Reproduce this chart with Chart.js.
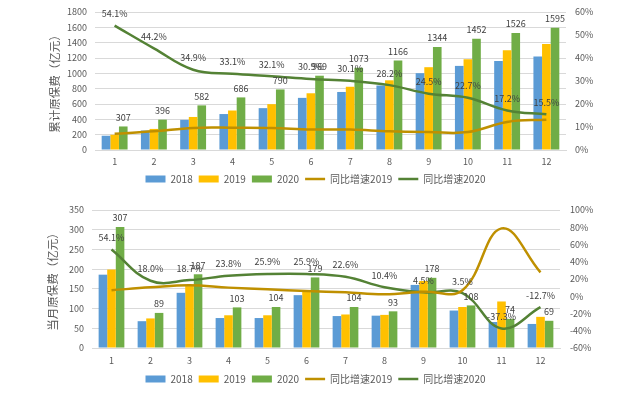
<!DOCTYPE html>
<html>
<head>
<meta charset="utf-8">
<script src="https://cdn.jsdelivr.net/npm/chart.js@4.4.0/dist/chart.umd.min.js"></script>
<style>
  body { margin: 0; background: #fff; }
  #wrap { position: relative; width: 640px; height: 398px; }
  #wrap canvas { position: absolute; left: 0; }
</style>
</head>
<body>
<div id="wrap">
  <canvas id="cumChart" width="640" height="195" style="top:0"></canvas>
  <canvas id="monChart" width="640" height="203" style="top:195px"></canvas>
</div>
<script>
  // months on the x axis
  const months = ['1', '2', '3', '4', '5', '6', '7', '8', '9', '10', '11', '12'];

  // cumulative premium (亿元)
  const cum2018 = [186, 254, 393, 469, 546, 680, 757, 841, 1002, 1097, 1160, 1220];
  const cum2019 = [199, 275, 431, 515, 598, 740, 825, 909, 1080, 1183, 1302, 1381];
  const cum2020 = [307, 396, 582, 686, 790, 969, 1073, 1166, 1344, 1452, 1526, 1595];
  const cumGrowth2019 = [7.1, 8.1, 9.6, 9.7, 9.6, 8.9, 8.9, 8.1, 7.8, 7.8, 12.2, 13.2];
  const cumGrowth2020 = [54.1, 44.2, 34.9, 33.1, 32.1, 30.9, 30.1, 28.2, 24.5, 22.7, 17.2, 15.5];

  // monthly premium (亿元)
  const mon2018 = [186, 68, 140, 76, 76, 134, 81, 82, 160, 95, 66, 61];
  const mon2019 = [199, 75, 157, 83, 83, 142, 85, 84, 170, 104, 118, 79];
  const mon2020 = [307, 89, 187, 103, 104, 179, 104, 93, 178, 108, 74, 69];
  const monGrowth2019 = [7.0, 10.3, 12.7, 10.0, 8.0, 6.1, 4.5, 2.2, 5.3, 7.0, 78.7, 27.7];
  const monGrowth2020 = [54.1, 18.0, 18.7, 23.8, 25.9, 25.9, 22.6, 10.4, 4.5, 3.5, -37.3, -12.7];

  const seriesNames = ['2018', '2019', '2020', '同比增速2019', '同比增速2020'];
  const colors = ['#5B9BD5', '#FFC000', '#70AD47', '#BF9000', '#548235'];

  const FONT = '"Noto Sans CJK SC", "Noto Sans", sans-serif';
  const TXT = '#595959';

  // draws the numbers above the 2020 bars and the 2020 growth line
  const valueLabels = {
    id: 'valueLabels',
    afterDatasetsDraw(chart, args, opts) {
      const ctx = chart.ctx;
      ctx.save();
      ctx.font = '9px ' + FONT;
      ctx.fillStyle = '#404040';
      ctx.textAlign = 'center';
      ctx.textBaseline = 'middle';
      opts.items.forEach(item => {
        const ds = chart.data.datasets[item.index];
        chart.getDatasetMeta(item.index).data.forEach((el, j) => {
          const v = ds.data[j];
          const txt = item.percent ? v.toFixed(1) + '%' : String(v);
          ctx.fillText(txt, el.x, el.y - item.offset);
        });
      });
      ctx.restore();
    }
  };

  function barSet(i, data) {
    return {
      type: 'bar',
      label: seriesNames[i],
      data: data,
      backgroundColor: colors[i],
      borderWidth: 0,
      pointStyle: 'rect',
      yAxisID: 'y',
      order: 1,
      categoryPercentage: 0.66,
      barPercentage: 1.0
    };
  }

  function lineSet(i, data) {
    return {
      type: 'line',
      label: seriesNames[i],
      data: data,
      borderColor: colors[i],
      backgroundColor: colors[i],
      borderWidth: 2.5,
      pointRadius: 0,
      pointStyle: 'line',
      tension: 0.4,
      yAxisID: 'y1',
      order: 0
    };
  }

  function makeOptions(cfg) {
    return {
      responsive: false,
      animation: false,
      layout: { padding: cfg.padding },
      plugins: {
        tooltip: { enabled: false },
        legend: {
          position: 'bottom',
          labels: {
            usePointStyle: true,
            pointStyleWidth: 20,
            boxHeight: 7,
            padding: 6,
            color: TXT,
            font: { family: FONT, size: 10 },
            sort: (a, b) => a.datasetIndex - b.datasetIndex
          }
        },
        valueLabels: {
          items: [
            { index: 2, offset: 9 },
            { index: 4, offset: 12, percent: true }
          ]
        }
      },
      scales: {
        x: {
          grid: { display: false, drawTicks: false },
          border: { color: '#d9d9d9' },
          ticks: { color: TXT, font: { family: FONT, size: 9 }, padding: cfg.xPad },
          afterFit: s => { s.height = cfg.xHeight; }
        },
        y: {
          position: 'left',
          min: cfg.yMin, max: cfg.yMax,
          border: { display: false },
          // invisible tick marks give the label gap without adding top padding
          grid: { color: '#d9d9d9', drawTicks: true, tickLength: 8, tickColor: 'rgba(0,0,0,0)' },
          ticks: {
            stepSize: cfg.yStep, autoSkip: false, color: TXT,
            font: { family: FONT, size: 9 }, padding: 0,
            callback: v => String(v)
          },
          title: {
            display: true, text: cfg.title, color: TXT,
            font: { family: FONT, size: 11.5 }, padding: { top: cfg.titlePad, bottom: 0 }
          },
          afterFit: s => { s.width = cfg.yWidth; }
        },
        y1: {
          position: 'right',
          min: cfg.pMin, max: cfg.pMax,
          border: { display: false },
          grid: { display: false, drawTicks: true, tickLength: cfg.y1Gap },
          ticks: {
            stepSize: cfg.pStep, autoSkip: false, color: TXT,
            font: { family: FONT, size: 9 }, padding: 0,
            callback: v => v + '%'
          },
          afterFit: s => { s.width = cfg.y1Width; }
        }
      }
    };
  }

  const cumChart = new Chart(document.getElementById('cumChart'), {
    data: {
      labels: months,
      datasets: [
        barSet(0, cum2018), barSet(1, cum2019), barSet(2, cum2020),
        lineSet(3, cumGrowth2019), lineSet(4, cumGrowth2020)
      ]
    },
    options: makeOptions({
      padding: { left: 13, right: 22, top: 12, bottom: 1 },
      yWidth: 82, y1Width: 52, y1Gap: 9, titlePad: 35,
      xPad: 6, xHeight: 18,
      yMin: 0, yMax: 1800, yStep: 200,
      pMin: 0, pMax: 60, pStep: 10,
      title: '累计原保费（亿元）'
    }),
    plugins: [valueLabels]
  });

  const monChart = new Chart(document.getElementById('monChart'), {
    data: {
      labels: months,
      datasets: [
        barSet(0, mon2018), barSet(1, mon2019), barSet(2, mon2020),
        lineSet(3, monGrowth2019), lineSet(4, monGrowth2020)
      ]
    },
    options: makeOptions({
      padding: { left: 13, right: 22, top: 15, bottom: 4 },
      yWidth: 79, y1Width: 58, y1Gap: 10, titlePad: 33,
      xPad: 7, xHeight: 20,
      yMin: 0, yMax: 350, yStep: 50,
      pMin: -60, pMax: 100, pStep: 20,
      title: '当月原保费（亿元）'
    }),
    plugins: [valueLabels]
  });
</script>
</body>
</html>
